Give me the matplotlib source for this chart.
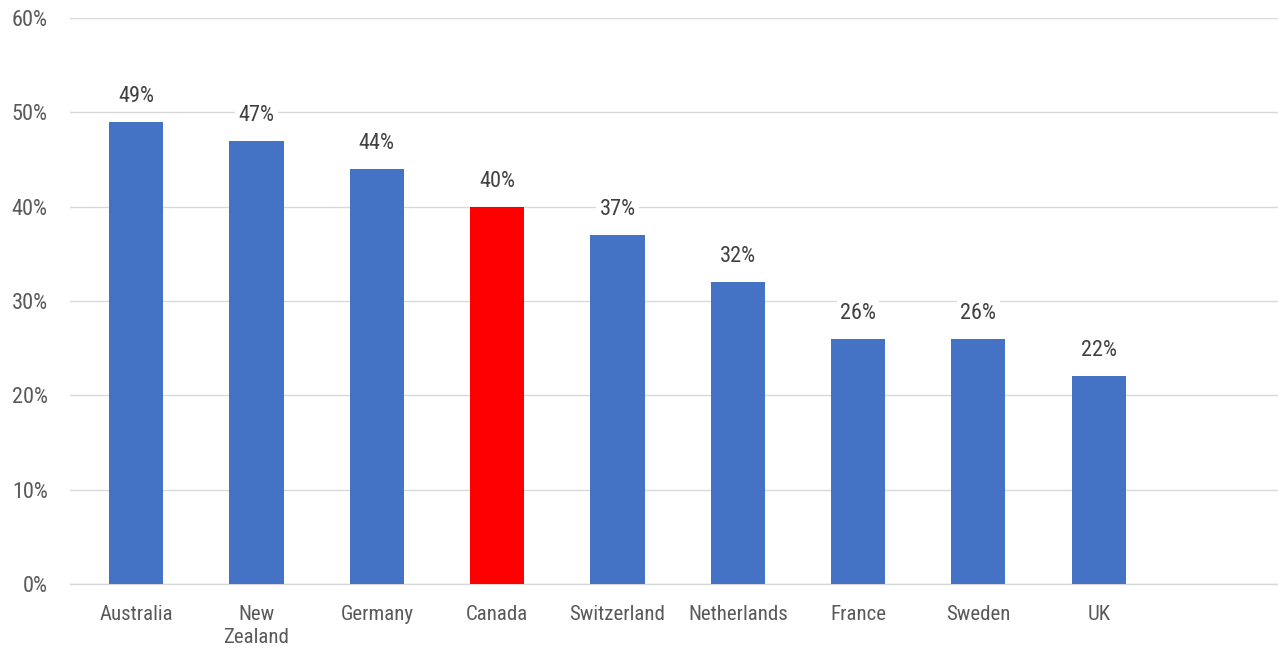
import matplotlib
matplotlib.use("Agg")
import matplotlib.pyplot as plt
from matplotlib import font_manager as fm
from matplotlib.ticker import FuncFormatter, MultipleLocator

countries = ["Australia", "New\nZealand", "Germany", "Canada", "Switzerland",
             "Netherlands", "France", "Sweden", "UK"]
values = [49, 47, 44, 40, 37, 32, 26, 26, 22]
highlight = "Canada"

names = {f.name for f in fm.fontManager.ttflist}
family = None
for cand in ["Roboto Condensed", "Liberation Sans Narrow", "Roboto", "DejaVu Sans"]:
    if cand in names:
        family = cand
        break
plt.rcParams["font.family"] = [family, "DejaVu Sans"]

fig = plt.figure(figsize=(12.78, 6.49), dpi=100)
ax = fig.add_axes([70/1278, 65/649, 1 - 70/1278, (584-18)/649])

x = list(range(len(countries)))
colors = ["#ff0000" if c == highlight else "#4472c4" for c in countries]
ax.bar(x, values, width=0.45, color=colors, zorder=3)

for xi, v in zip(x, values):
    ax.text(xi, v + 2.7, f"{v}%", ha="center", va="center", fontsize=16,
            color="#404040", zorder=4,
            bbox=dict(boxstyle="square,pad=0.15", fc="white", ec="none"))

ax.set_xlim(-0.55, 9.49)
ax.set_ylim(0, 60)
ax.yaxis.set_major_locator(MultipleLocator(10))
ax.yaxis.set_major_formatter(FuncFormatter(lambda v, p: f"{int(v)}%"))
ax.set_xticks(x)
ax.set_xticklabels(countries, fontsize=15, color="#595959", linespacing=1.3, va="top")
ax.tick_params(axis="y", labelsize=16, labelcolor="#595959", length=0, pad=16)
ax.tick_params(axis="x", length=0, pad=15)
ax.grid(axis="y", color="#d9d9d9", linewidth=1, zorder=0)
for s in ["top", "right", "left"]:
    ax.spines[s].set_visible(False)
ax.spines["bottom"].set_color("#d9d9d9")
ax.spines["bottom"].set_linewidth(1)

fig.savefig("out.png", dpi=100)
